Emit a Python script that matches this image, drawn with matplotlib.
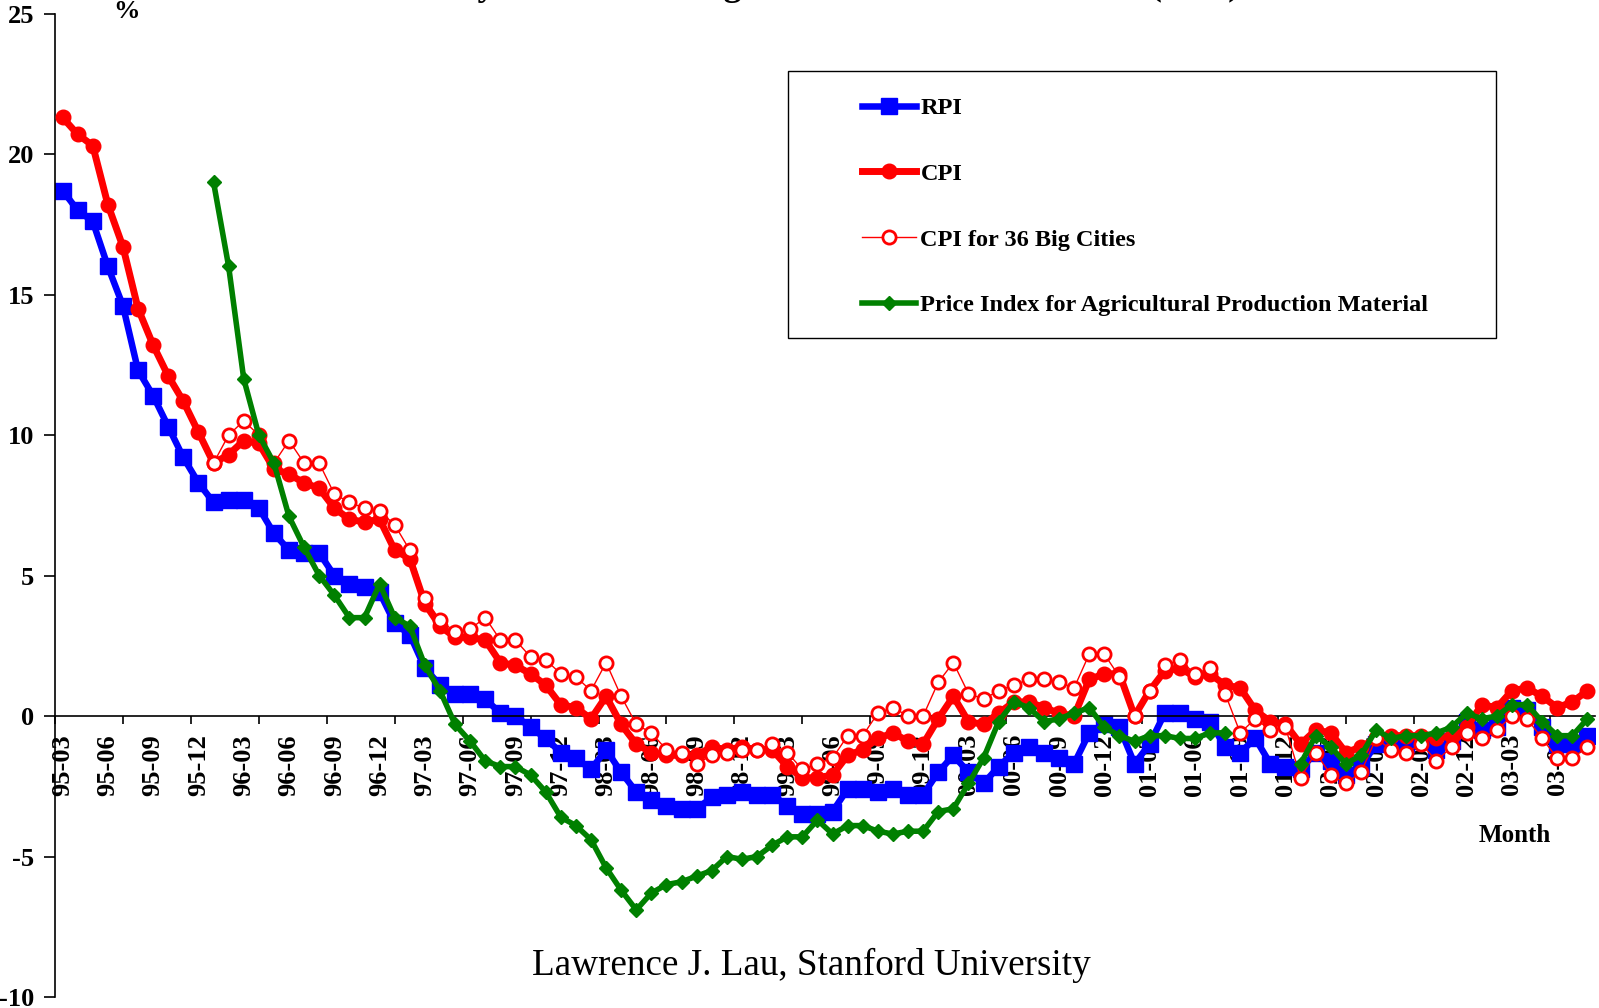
"""Monthly rates of change of Chinese price indexes, 95-03 .. 03-08 (year on year, %)."""
import numpy as np
import matplotlib
matplotlib.use("Agg")
import matplotlib.pyplot as plt
from matplotlib.patches import Rectangle

plt.rcParams["font.family"] = ["Liberation Serif", "DejaVu Serif"]
plt.rcParams["axes.unicode_minus"] = False

nan = np.nan
# categories: 95-03 .. 03-08, one per month
months = [f"{y % 100:02d}-{m:02d}" for y in range(1995, 2004) for m in range(1, 13)][2:104]

rpi = [18.7, 18.0, 17.6, 16.0, 14.6, 12.3, 11.4, 10.3, 9.2, 8.3,
       7.6, 7.7, 7.7, 7.4, 6.5, 5.9, 5.8, 5.8, 5.0, 4.7,
       4.6, 4.4, 3.3, 2.9, 1.7, 1.1, 0.8, 0.8, 0.6, 0.1,
       0.0, -0.4, -0.8, -1.3, -1.5, -1.9, -1.2, -2.0, -2.7, -3.0,
       -3.2, -3.3, -3.3, -2.9, -2.8, -2.7, -2.8, -2.8, -3.2, -3.5,
       -3.5, -3.4, -2.6, -2.6, -2.7, -2.6, -2.8, -2.8, -2.0, -1.4,
       -2.0, -2.4, -1.8, -1.3, -1.1, -1.3, -1.5, -1.7, -0.6, -0.3,
       -0.4, -1.7, -1.0, 0.1, 0.1, -0.1, -0.2, -1.1, -1.3, -0.8,
       -1.7, -1.8, -1.9, -1.3, -1.6, -2.1, -1.8, -1.0, -0.9, -1.0,
       -0.9, -1.2, -0.9, -0.2, -0.5, -0.4, 0.3, 0.2, -0.4, -1.0,
       -1.0, -0.7]

cpi = [21.3, 20.7, 20.3, 18.2, 16.7, 14.5, 13.2, 12.1, 11.2, 10.1,
       9.0, 9.3, 9.8, 9.7, 8.8, 8.6, 8.3, 8.1, 7.4, 7.0,
       6.9, 7.0, 5.9, 5.6, 4.0, 3.2, 2.8, 2.8, 2.7, 1.9,
       1.8, 1.5, 1.1, 0.4, 0.3, -0.1, 0.7, -0.3, -1.0, -1.3,
       -1.4, -1.4, -1.4, -1.1, -1.2, -1.1, -1.2, -1.2, -1.8, -2.2,
       -2.2, -2.1, -1.4, -1.2, -0.8, -0.6, -0.9, -1.0, -0.1, 0.7,
       -0.2, -0.3, 0.1, 0.5, 0.5, 0.3, 0.1, 0.0, 1.3, 1.5,
       1.5, 0.0, 0.9, 1.6, 1.7, 1.4, 1.5, 1.1, 1.0, 0.2,
       -0.2, -0.3, -1.0, -0.5, -0.6, -1.3, -1.1, -0.8, -0.7, -0.7,
       -0.7, -0.8, -0.7, -0.4, 0.4, 0.3, 0.9, 1.0, 0.7, 0.3,
       0.5, 0.9]

cpi36 = [nan, nan, nan, nan, nan, nan, nan, nan, nan, nan,
         9.0, 10.0, 10.5, 10.0, 9.0, 9.8, 9.0, 9.0, 7.9, 7.6,
         7.4, 7.3, 6.8, 5.9, 4.2, 3.4, 3.0, 3.1, 3.5, 2.7,
         2.7, 2.1, 2.0, 1.5, 1.4, 0.9, 1.9, 0.7, -0.3, -0.6,
         -1.2, -1.3, -1.7, -1.4, -1.3, -1.2, -1.2, -1.0, -1.3, -1.9,
         -1.7, -1.5, -0.7, -0.7, 0.1, 0.3, 0.0, 0.0, 1.2, 1.9,
         0.8, 0.6, 0.9, 1.1, 1.3, 1.3, 1.2, 1.0, 2.2, 2.2,
         1.4, 0.0, 0.9, 1.8, 2.0, 1.5, 1.7, 0.8, -0.6, -0.1,
         -0.5, -0.4, -2.2, -1.3, -2.1, -2.4, -2.0, -0.8, -1.2, -1.3,
         -1.0, -1.6, -1.1, -0.6, -0.8, -0.5, 0.0, -0.1, -0.8, -1.5,
         -1.5, -1.1]

agri = [nan, nan, nan, nan, nan, nan, nan, nan, nan, nan,
        19.0, 16.0, 12.0, 10.0, 9.0, 7.1, 6.0, 5.0, 4.3, 3.5,
        3.5, 4.7, 3.5, 3.2, 1.8, 0.9, -0.3, -0.9, -1.6, -1.8,
        -1.8, -2.1, -2.7, -3.6, -3.9, -4.4, -5.4, -6.2, -6.9, -6.3,
        -6.0, -5.9, -5.7, -5.5, -5.0, -5.1, -5.0, -4.6, -4.3, -4.3,
        -3.7, -4.2, -3.9, -3.9, -4.1, -4.2, -4.1, -4.1, -3.4, -3.3,
        -2.4, -1.5, -0.2, 0.5, 0.3, -0.2, -0.1, 0.1, 0.3, -0.4,
        -0.7, -0.9, -0.7, -0.7, -0.8, -0.8, -0.6, -0.6, nan, nan,
        nan, nan, -1.7, -0.7, -1.1, -1.7, -1.4, -0.5, -0.8, -0.7,
        -0.7, -0.6, -0.4, 0.1, -0.1, 0.0, 0.4, 0.4, -0.2, -0.7,
        -0.7, -0.1]

names = ["RPI", "CPI", "CPI for 36 Big Cities",
         "Price Index for Agricultural Production Material"]

W, H = 1599, 1008
fig = plt.figure(figsize=(W / 100, H / 100), dpi=100)
ax = fig.add_axes([55 / W, 11 / H, 1540 / W, 983.5 / H])
x = np.arange(len(months))

ax.plot(x, rpi, color="#0000FF", lw=4.7, marker="s", ms=11, zorder=2, label=names[0])
ax.plot(x, cpi, color="#FF0000", lw=5, marker="o", ms=10.5, zorder=3, label=names[1])
ax.plot(x, cpi36, color="#FF0000", lw=1, marker="o", ms=9.5, mfc="white", mew=2,
        zorder=4, label=names[2])
ax.plot(x, agri, color="#008000", lw=4, marker="D", ms=7.5, zorder=5, label=names[3])

ax.set_xlim(-0.5, len(months) - 0.5)
ax.set_ylim(-10, 25)
for s in ("top", "right"):
    ax.spines[s].set_visible(False)
ax.spines["bottom"].set_position(("data", 0))
ax.spines["bottom"].set_linewidth(1.2)
ax.spines["left"].set_linewidth(1.2)

ax.set_yticks(range(-10, 26, 5))
ax.tick_params(axis="y", length=8, width=1.2, pad=7, labelsize=19)
for t in ax.get_yticklabels():
    t.set_fontweight("bold")

ax.set_xticks(x[::3])
ax.set_xticklabels(months[::3], rotation=90, fontsize=19, fontweight="bold")
ax.tick_params(axis="x", which="major", length=0, pad=13)
ax.set_xticks(np.arange(-0.5, len(months), 4.5), minor=True)
ax.tick_params(axis="x", which="minor", length=6, width=1.2, direction="out")

# legend box
fig.add_artist(Rectangle((788 / W, 1 - 338 / H), 708 / W, 267 / H, transform=fig.transFigure,
                         fill=False, ec="black", lw=1))
fig.legend(loc="upper left", bbox_to_anchor=(850 / W, 1 - 85 / H), frameon=False,
           borderpad=0, labelspacing=1.8, handlelength=2.2, handletextpad=0.2,
           prop={"weight": "bold", "size": 17.5})

fig.text(126 / W, 1 - 11 / H, "%", fontsize=19, fontweight="bold", ha="center", va="center")
fig.text(1515 / W, 1 - 835 / H, "Month", fontsize=18, fontweight="bold", ha="center", va="center")
fig.text(811 / W, 1 - 965 / H, "Lawrence J. Lau, Stanford University", fontsize=26.7,
         ha="center", va="center")
# title sits above the top edge; only its descenders show
fig.text(802 / W, 1 + 5 / H, "Monthly Rates of Change of Various Price Indexes (YoY)",
         fontsize=26, fontweight="bold", ha="center", va="baseline")

fig.savefig("out.png", dpi=100)
